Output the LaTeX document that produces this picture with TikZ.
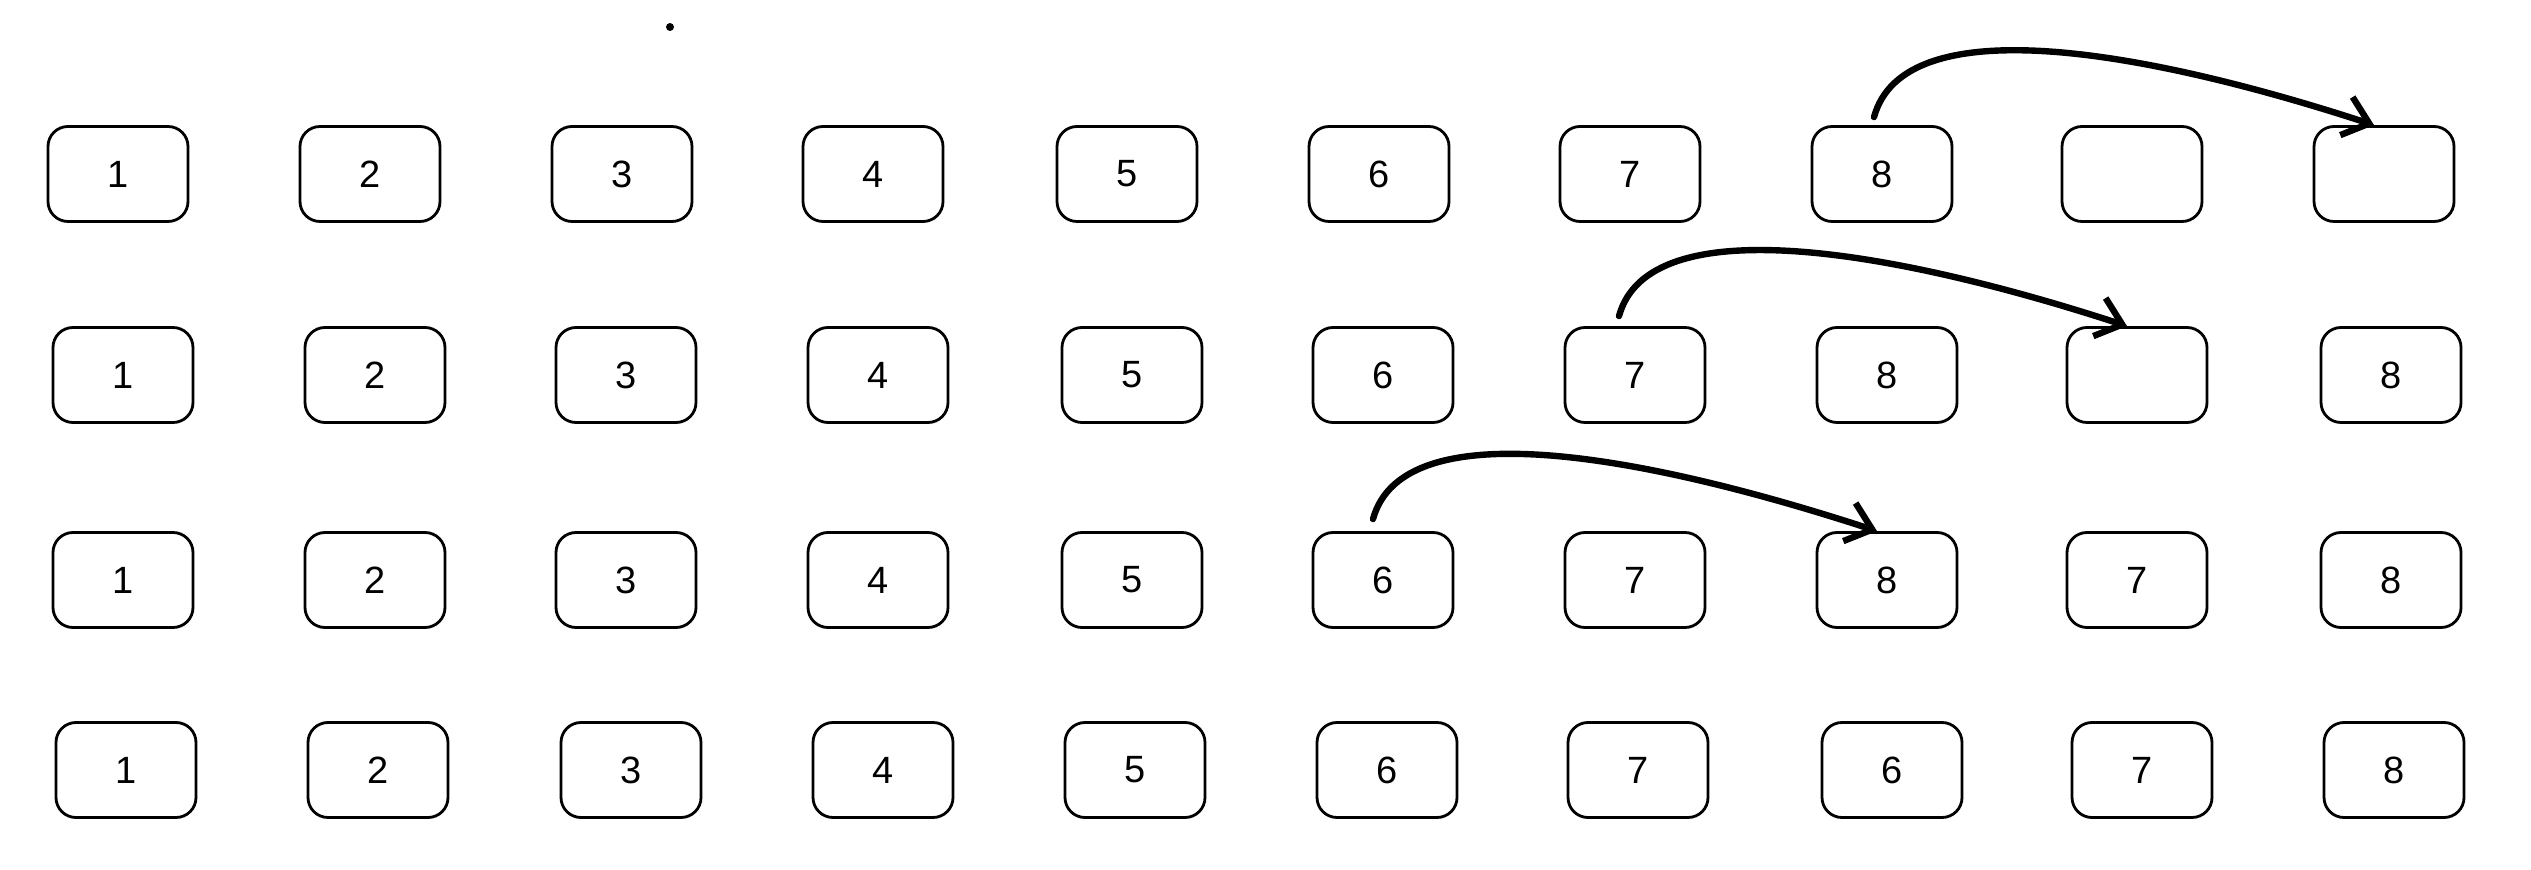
\documentclass[tikz,border=0pt]{standalone}
\usepackage{fontspec}
\setmainfont{Liberation Sans}
\usetikzlibrary{arrows.meta}

\tikzset{
  cell/.style={draw,line width=1.4pt,rounded corners=10pt,minimum width=70pt,minimum height=47.5pt,inner sep=0pt,font=\fontsize{19}{19}\selectfont},
  jump/.style={line width=3.2pt,line cap=round,-{Straight Barb[length=12pt,width=20pt,line width=3.2pt]}}
}

\begin{document}
\begin{tikzpicture}[x=0.5pt,y=-0.5pt]
\useasboundingbox (0,0) rectangle (2531,870);

\fill (670,27) circle (4);

% row 1
\node[cell] (r1c1) at (118,174) {1};
\node[cell] (r1c2) at (370,174) {2};
\node[cell] (r1c3) at (622,174) {3};
\node[cell] (r1c4) at (873,174) {4};
\node[cell] (r1c5) at (1127,174) {5};
\node[cell] (r1c6) at (1379,174) {6};
\node[cell] (r1c7) at (1630,174) {7};
\node[cell] (r1c8) at (1882,174) {8};
\node[cell] (r1c9) at (2132,174) {};
\node[cell] (r1c10) at (2384,174) {};

% row 2
\node[cell] (r2c1) at (123,375) {1};
\node[cell] (r2c2) at (375,375) {2};
\node[cell] (r2c3) at (626,375) {3};
\node[cell] (r2c4) at (878,375) {4};
\node[cell] (r2c5) at (1132,375) {5};
\node[cell] (r2c6) at (1383,375) {6};
\node[cell] (r2c7) at (1635,375) {7};
\node[cell] (r2c8) at (1887,375) {8};
\node[cell] (r2c9) at (2137,375) {};
\node[cell] (r2c10) at (2391,375) {8};

% row 3
\node[cell] (r3c1) at (123,580) {1};
\node[cell] (r3c2) at (375,580) {2};
\node[cell] (r3c3) at (626,580) {3};
\node[cell] (r3c4) at (878,580) {4};
\node[cell] (r3c5) at (1132,580) {5};
\node[cell] (r3c6) at (1383,580) {6};
\node[cell] (r3c7) at (1635,580) {7};
\node[cell] (r3c8) at (1887,580) {8};
\node[cell] (r3c9) at (2137,580) {7};
\node[cell] (r3c10) at (2391,580) {8};

% row 4
\node[cell] (r4c1) at (126,770) {1};
\node[cell] (r4c2) at (378,770) {2};
\node[cell] (r4c3) at (631,770) {3};
\node[cell] (r4c4) at (883,770) {4};
\node[cell] (r4c5) at (1135,770) {5};
\node[cell] (r4c6) at (1387,770) {6};
\node[cell] (r4c7) at (1638,770) {7};
\node[cell] (r4c8) at (1892,770) {6};
\node[cell] (r4c9) at (2142,770) {7};
\node[cell] (r4c10) at (2394,770) {8};

% moves
\draw[jump] ([xshift=-4pt,yshift=4pt]r1c8.north) .. controls +(30,-110) and +(-230,-75) .. ([xshift=-5pt]r1c10.north);
\draw[jump] ([xshift=-8pt,yshift=5pt]r2c7.north) .. controls +(30,-110) and +(-230,-75) .. ([xshift=-5pt]r2c9.north);
\draw[jump] ([xshift=-5pt,yshift=6pt]r3c6.north) .. controls +(30,-110) and +(-230,-75) .. ([xshift=-5pt]r3c8.north);

\end{tikzpicture}
\end{document}
